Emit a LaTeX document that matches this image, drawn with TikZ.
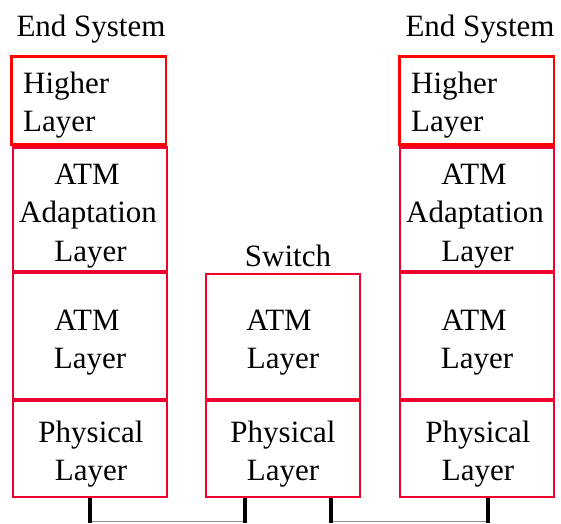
\documentclass[tikz,border=0pt]{standalone}
\usepackage{fontspec}
\setmainfont{Liberation Serif}
\definecolor{hired}{RGB}{255,0,0}
\definecolor{boxred}{RGB}{240,0,45}
\begin{document}
\begin{tikzpicture}[x=1pt,y=-1pt,
  txt/.style={font=\fontsize{31}{38}\selectfont, inner sep=0pt, anchor=base},
  txtl/.style={txt, anchor=base west},
  hibox/.style={draw=hired, line width=2.8pt},
  lay/.style={draw=boxred, line width=2.3pt},
  wire/.style={line width=4pt, black},
  link/.style={line width=1pt, black!45}]
\useasboundingbox (0,0) rectangle (561,523);
% left end system
\node[txt] (tl) at (91,36) {End System};
\draw[hibox] (11.5,56.5) rectangle (166,144.5);
\draw[lay] (13,147.5) rectangle (167,270.8);
\draw[lay] (13,273.2) rectangle (167,398.8);
\draw[lay] (13,401.2) rectangle (167,497);
\node[txtl] (l1a) at (23,93) {Higher};
\node[txtl] (l1b) at (23,131.5) {Layer};
\node[txt] (l2a) at (87,184) {ATM};
\node[txt] (l2b) at (88,222.5) {Adaptation};
\node[txt] (l2c) at (90.5,261) {Layer};
\node[txt] (l3a) at (87,330) {ATM};
\node[txt] (l3b) at (90,368) {Layer};
\node[txt] (l4a) at (91,442) {Physical};
\node[txt] (l4b) at (91,480) {Layer};
% switch
\node[txt] (ts) at (288,266.5) {Switch};
\draw[lay] (206,274) rectangle (360,398.8);
\draw[lay] (206,401.2) rectangle (360,497);
\node[txt] (s1a) at (279,330) {ATM};
\node[txt] (s1b) at (283,368) {Layer};
\node[txt] (s2a) at (283,442) {Physical};
\node[txt] (s2b) at (283,480) {Layer};
% right end system
\node[txt] (tr) at (480,36) {End System};
\draw[hibox] (399.5,56.5) rectangle (554,144.5);
\draw[lay] (400,147.5) rectangle (554,270.8);
\draw[lay] (400,273.2) rectangle (554,398.8);
\draw[lay] (400,401.2) rectangle (554,497);
\node[txtl] (r1a) at (411,93) {Higher};
\node[txtl] (r1b) at (411,131.5) {Layer};
\node[txt] (r2a) at (474,184) {ATM};
\node[txt] (r2b) at (475,222.5) {Adaptation};
\node[txt] (r2c) at (477.5,261) {Layer};
\node[txt] (r3a) at (474,330) {ATM};
\node[txt] (r3b) at (477,368) {Layer};
\node[txt] (r4a) at (478,442) {Physical};
\node[txt] (r4b) at (478,480) {Layer};
% links
\coordinate (a1) at (90,498);
\coordinate (a2) at (90,523);
\coordinate (b1) at (245,498);
\coordinate (b2) at (245,523);
\coordinate (c1) at (331,498);
\coordinate (c2) at (331,523);
\coordinate (d1) at (488,498);
\coordinate (d2) at (488,523);
\draw[link] (90,521.5) -- (245,521.5);
\draw[link] (331,521.5) -- (488,521.5);
\draw[wire] (a1) -- (a2);
\draw[wire] (b1) -- (b2);
\draw[wire] (c1) -- (c2);
\draw[wire] (d1) -- (d2);
\end{tikzpicture}
\end{document}
